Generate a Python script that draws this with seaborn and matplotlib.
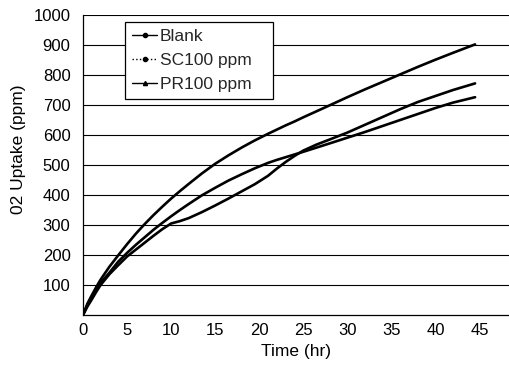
import pandas as pd
import seaborn as sns
import matplotlib.pyplot as plt
from matplotlib.lines import Line2D

# values
time_hr = [0, 0.5, 1, 1.5, 2, 3, 4, 5, 6, 7, 8, 9, 10, 11, 12, 13.5, 15, 16.5, 18, 19.5,
           21, 22, 23, 24, 25, 26.5, 28, 30, 32, 34, 36, 38, 40, 42, 44.5]
blank = [0, 38, 66, 93, 118, 161, 199, 236, 271, 303, 333, 361, 388, 413, 437, 472, 504, 532, 558, 582,
         604, 618, 632, 645, 659, 679, 699, 726, 752, 777, 802, 827, 851, 874, 902]
sc100 = [0, 28, 52, 77, 100, 136, 166, 195, 218, 241, 264, 286, 305, 313, 323, 343, 365, 388, 412, 436,
         464, 488, 510, 530, 548, 568, 585, 608, 634, 660, 686, 710, 730, 750, 772]
pr100 = [0, 33, 60, 85, 107, 141, 178, 207, 234, 259, 284, 307, 329, 350, 370, 399, 424, 448, 469, 489,
         507, 517, 526, 535, 544, 558, 572, 591, 610, 630, 650, 670, 690, 708, 726]
series_names = ["Blank", "SC100 ppm", "PR100 ppm"]
x_ticks = [0, 5, 10, 15, 20, 25, 30, 35, 40, 45]
y_ticks = [100, 200, 300, 400, 500, 600, 700, 800, 900, 1000]

df = pd.DataFrame({"Time": time_hr, "Blank": blank, "SC100 ppm": sc100, "PR100 ppm": pr100})
df = pd.melt(df, id_vars=["Time"], var_name="Sample", value_name="O2")

sns.set_theme(style="white")
plt.rcParams['font.family'] = ['Liberation Sans', 'DejaVu Sans']

fig = plt.figure(figsize=(5.09, 3.70), dpi=100)
ax = fig.add_axes([83 / 509, 55 / 370, 426 / 509, 300 / 370])

sns.lineplot(data=df, x="Time", y="O2", hue="Sample", palette=["black"] * 3,
             linewidth=1.9, legend=False, ax=ax)

ax.set_xlim(0, 48.35)
ax.set_ylim(0, 1000)
ax.set_xticks(x_ticks)
ax.set_yticks(y_ticks)
ax.yaxis.grid(True, color="black", linewidth=0.8)
ax.set_axisbelow(True)
for s in ["top", "right"]:
    ax.spines[s].set_visible(False)
for s in ["left", "bottom"]:
    ax.spines[s].set_color("black")
    ax.spines[s].set_linewidth(0.9)
ax.tick_params(axis="x", direction="in", length=4, width=0.8, color="black",
               labelsize=12, labelcolor="black", pad=6)
ax.tick_params(axis="y", length=0, labelsize=12, labelcolor="black", pad=9)

ax.set_xlabel("Time (hr)", fontsize=12.5, color="black", labelpad=4)
ax.set_ylabel("02 Uptake (ppm)", fontsize=12.5, color="black")
ax.yaxis.set_label_coords(-0.134, 0.553)

# legend
handles = [
    Line2D([], [], color="black", lw=1, marker="o", markersize=3),
    Line2D([], [], color="black", lw=1, ls=":", marker="o", markersize=3),
    Line2D([], [], color="black", lw=1, marker="^", markersize=3),
]
leg = ax.legend(handles, series_names, loc="upper left",
                bbox_to_anchor=(0.0986, 0.703, 0.347, 0.274), mode="expand",
                fontsize=12.5, frameon=True, fancybox=False, framealpha=1,
                edgecolor="black", handlelength=1.45, handletextpad=0.15,
                labelspacing=0.5, borderpad=0.4, borderaxespad=0)
leg.get_frame().set_linewidth(0.9)

fig.savefig("out.png", dpi=100)
